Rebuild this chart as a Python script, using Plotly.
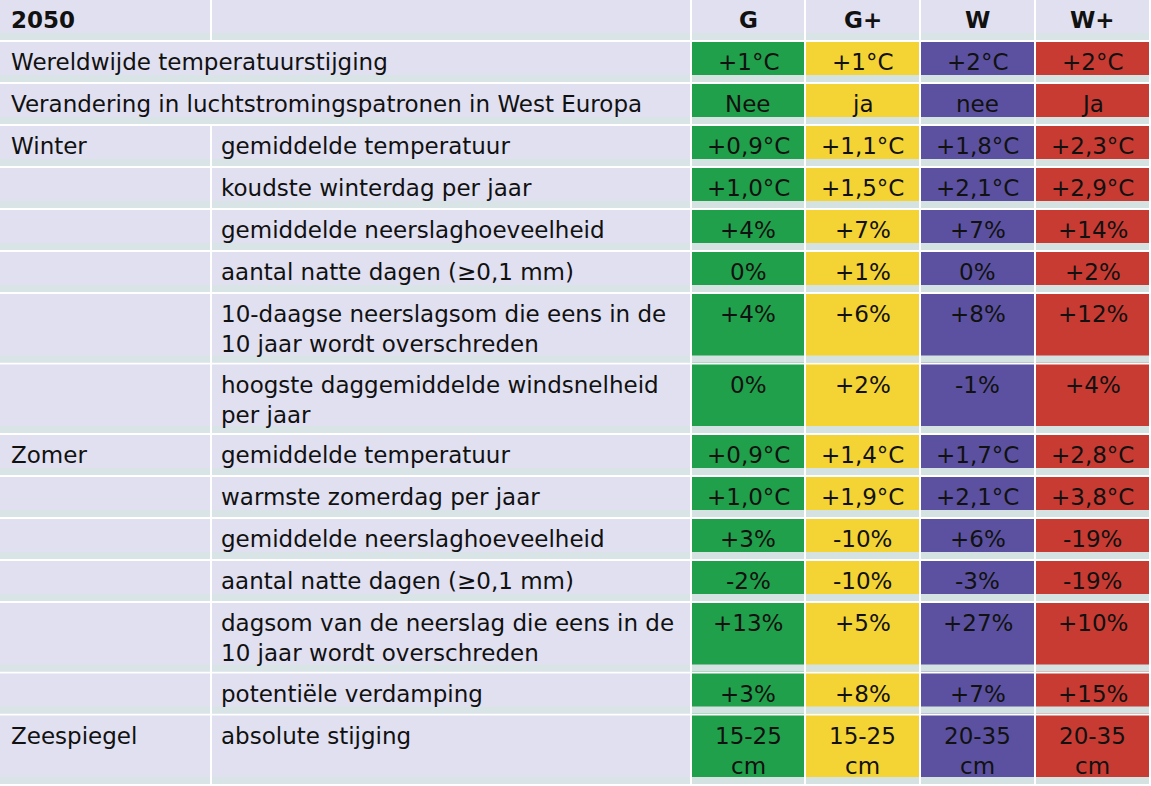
import plotly.graph_objects as go

# --- data ---------------------------------------------------------------
year = "2050"
scenarios = ["G", "G+", "W", "W+"]

groups = ["Wereldwijde temperatuurstijging",
          "Verandering in luchtstromingspatronen in West Europa",
          "Winter", "", "", "", "", "",
          "Zomer", "", "", "", "", "",
          "Zeespiegel"]

indicators = ["", "",
              "gemiddelde temperatuur",
              "koudste winterdag per jaar",
              "gemiddelde neerslaghoeveelheid",
              "aantal natte dagen (≥0,1 mm)",
              "10-daagse neerslagsom die eens in de<br>10 jaar wordt overschreden",
              "hoogste daggemiddelde windsnelheid<br>per jaar",
              "gemiddelde temperatuur",
              "warmste zomerdag per jaar",
              "gemiddelde neerslaghoeveelheid",
              "aantal natte dagen (≥0,1 mm)",
              "dagsom van de neerslag die eens in de<br>10 jaar wordt overschreden",
              "potentiële verdamping",
              "absolute stijging"]

g_vals = ["+1°C", "Nee", "+0,9°C", "+1,0°C", "+4%", "0%", "+4%", "0%",
          "+0,9°C", "+1,0°C", "+3%", "-2%", "+13%", "+3%", "15-25<br>cm"]
gplus_vals = ["+1°C", "ja", "+1,1°C", "+1,5°C", "+7%", "+1%", "+6%", "+2%",
              "+1,4°C", "+1,9°C", "-10%", "-10%", "+5%", "+8%", "15-25<br>cm"]
w_vals = ["+2°C", "nee", "+1,8°C", "+2,1°C", "+7%", "0%", "+8%", "-1%",
          "+1,7°C", "+2,1°C", "+6%", "-3%", "+27%", "+7%", "20-35<br>cm"]
wplus_vals = ["+2°C", "Ja", "+2,3°C", "+2,9°C", "+14%", "+2%", "+12%", "+4%",
              "+2,8°C", "+3,8°C", "-19%", "-19%", "+10%", "+15%", "20-35<br>cm"]

# --- styling ------------------------------------------------------------
W, H = 1151, 786
col_widths = [210, 478, 112, 113, 113, 113]
gap = 2
single_h = 42
double_h = 70.5
line_step = 30
first_line = 20

bg = "#e0e0f0"
bg_strip = "#d9e4e6"
scen_colors = ["#21a04b", "#f4d435", "#5b51a0", "#c83b33"]
scen_strip = "#d4e2e2"
txt_col = "#111111"
font_family = "Verdana, DejaVu Sans, sans-serif"
font_size = 23

col_x = []
x = 0
for w in col_widths:
    col_x.append((x, x + w))
    x += w + gap

value_cols = [g_vals, gplus_vals, w_vals, wplus_vals]

shapes = []
annotations = []


def cell(x0, x1, top, h, fill, strip):
    shapes.append(dict(type="rect", xref="x", yref="y", x0=x0, x1=x1, y0=top, y1=top + h - gap,
                       fillcolor=fill, line=dict(width=0), layer="below"))
    shapes.append(dict(type="rect", xref="x", yref="y", x0=x0, x1=x1, y0=top + h - 9, y1=top + h - gap,
                       fillcolor=strip, line=dict(width=0), layer="below"))


def text(s, xpos, top, anchor="left", bold=False):
    for i, line in enumerate(s.split("<br>")):
        if not line:
            continue
        annotations.append(dict(
            x=xpos, y=top + first_line + i * line_step, xref="x", yref="y",
            text=f"<b>{line}</b>" if bold else line, showarrow=False,
            xanchor=anchor, yanchor="middle",
            font=dict(family=font_family, size=font_size, color=txt_col)))


# header
top = 0
for c in range(len(col_widths)):
    x0, x1 = col_x[c]
    cell(x0, x1, top, single_h, bg, bg_strip)
text(year, col_x[0][0] + 9, top, bold=True)
for k, s in enumerate(scenarios):
    x0, x1 = col_x[2 + k]
    text(s, (x0 + x1) / 2, top, anchor="center", bold=True)
top += single_h

# body
for r in range(len(groups)):
    cells = [groups[r], indicators[r]] + [v[r] for v in value_cols]
    n_lines = max(len(s.split("<br>")) for s in cells)
    h = single_h if n_lines == 1 else double_h

    if groups[r] and not indicators[r]:
        cell(col_x[0][0], col_x[1][1], top, h, bg, bg_strip)
    else:
        cell(col_x[0][0], col_x[0][1], top, h, bg, bg_strip)
        cell(col_x[1][0], col_x[1][1], top, h, bg, bg_strip)
    text(groups[r], col_x[0][0] + 9, top)
    text(indicators[r], col_x[1][0] + 7, top)

    for k in range(4):
        x0, x1 = col_x[2 + k]
        cell(x0, x1, top, h, scen_colors[k], scen_strip)
        text(value_cols[k][r], (x0 + x1) / 2, top, anchor="center")
    top += h

fig = go.Figure()
fig.update_layout(
    width=W, height=H,
    margin=dict(l=0, r=0, t=0, b=0),
    paper_bgcolor="white", plot_bgcolor="white",
    xaxis=dict(range=[0, W], visible=False, fixedrange=True),
    yaxis=dict(range=[H, 0], visible=False, fixedrange=True),
    shapes=shapes,
    annotations=annotations,
    showlegend=False,
)

fig.write_html("out.html", config=dict(displayModeBar=False),
               post_script="document.body.style.margin='0';document.body.style.overflow='hidden';")
